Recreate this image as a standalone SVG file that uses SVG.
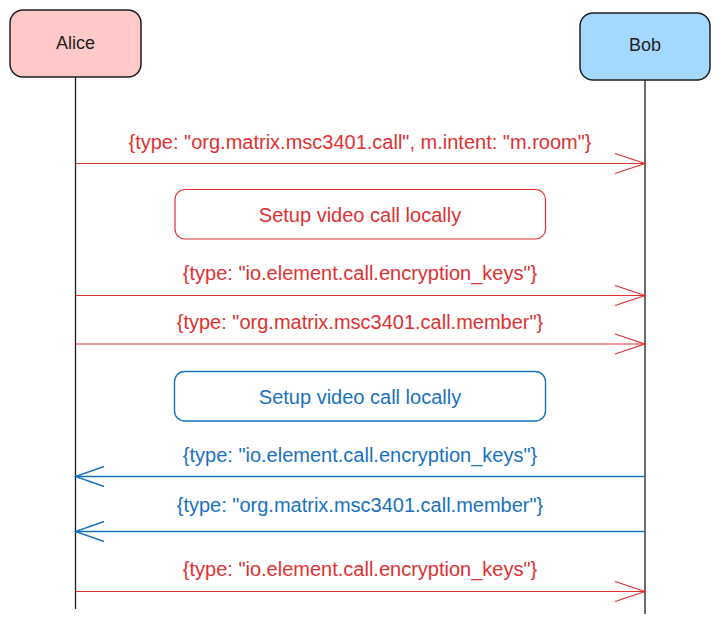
<svg xmlns="http://www.w3.org/2000/svg" width="720" height="624" viewBox="0 0 720 624">
<style>
.actor{stroke:#1e1e1e;stroke-width:1.5}
.life{stroke:#1e1e1e;stroke-width:1.3;fill:none}
.aname{font-family:"Liberation Sans",Arial,sans-serif;font-size:18px;fill:#1e1e1e;text-anchor:middle}
.lbl{font-family:"Liberation Sans",Arial,sans-serif;font-size:20px;text-anchor:middle}
.red{fill:#e03131}
.blue{fill:#1971c2}
.rl{stroke:#e03131;stroke-width:1.2;fill:none}
.bl{stroke:#1971c2;stroke-width:1.4;fill:none}
</style>
<rect width="720" height="624" fill="#ffffff"/>
<g id="alice">
<rect class="actor" x="10" y="10" width="131" height="67" rx="13" fill="#ffc9c9"/>
<text class="aname" x="75.5" y="49">Alice</text>
</g>
<g id="bob">
<rect class="actor" x="580" y="13" width="130" height="67" rx="13" fill="#a5d8ff"/>
<text class="aname" x="645" y="51">Bob</text>
</g>
<g id="lifelines">
<line class="life" x1="75.5" y1="77" x2="75.5" y2="609"/>
<line class="life" x1="645" y1="80" x2="645" y2="614"/>
</g>
<g id="setup-alice">
<rect x="175" y="189.5" width="370.5" height="49.5" rx="10" fill="none" stroke="#e03131" stroke-width="1.2"/>
<text class="lbl red" x="360" y="222">Setup video call locally</text>
</g>
<g id="setup-bob">
<rect x="174.5" y="371.5" width="371" height="49.5" rx="10" fill="none" stroke="#1971c2" stroke-width="1.4"/>
<text class="lbl blue" x="360" y="404">Setup video call locally</text>
</g>
<g id="connectors">
<g id="m1">
<line class="rl" x1="75.5" y1="163.5" x2="645" y2="163.5"/>
<polyline class="rl" points="615,153.5 645,163.5 615,173.5"/>
<text class="lbl red" x="360" y="149">{type: "org.matrix.msc3401.call", m.intent: "m.room"}</text>
</g>
<g id="m2">
<line class="rl" x1="75.5" y1="295.5" x2="645" y2="295.5"/>
<polyline class="rl" points="615,285.5 645,295.5 615,305.5"/>
<text class="lbl red" x="360" y="280">{type: "io.element.call.encryption_keys"}</text>
</g>
<g id="m3">
<line class="rl" x1="75.5" y1="344" x2="645" y2="344"/>
<polyline class="rl" points="615,334 645,344 615,354"/>
<text class="lbl red" x="360" y="329">{type: "org.matrix.msc3401.call.member"}</text>
</g>
<g id="m4">
<line class="bl" x1="645" y1="476.5" x2="75.5" y2="476.5"/>
<polyline class="bl" points="104,466.5 75.5,476.5 104,486.5"/>
<text class="lbl blue" x="360" y="462">{type: "io.element.call.encryption_keys"}</text>
</g>
<g id="m5">
<line class="bl" x1="645" y1="531.5" x2="75.5" y2="531.5"/>
<polyline class="bl" points="104,521.5 75.5,531.5 104,541.5"/>
<text class="lbl blue" x="360" y="512">{type: "org.matrix.msc3401.call.member"}</text>
</g>
<g id="m6">
<line class="rl" x1="75.5" y1="591.5" x2="645" y2="591.5"/>
<polyline class="rl" points="615,581.5 645,591.5 615,601.5"/>
<text class="lbl red" x="360" y="576">{type: "io.element.call.encryption_keys"}</text>
</g>
</g>
</svg>
